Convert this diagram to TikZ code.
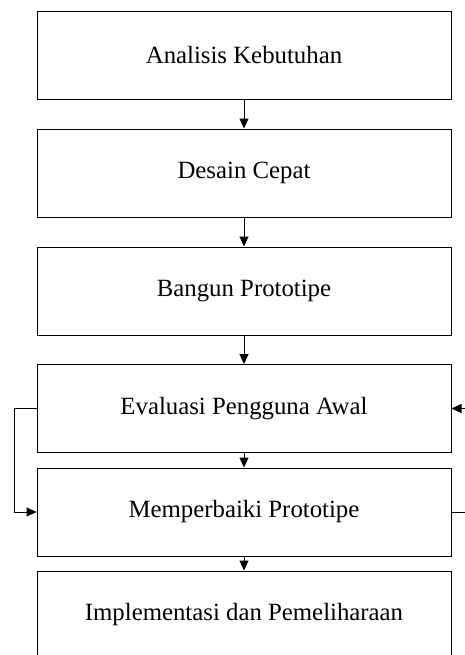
\documentclass[tikz,border=0pt]{standalone}
\usepackage{fontspec}
\setmainfont{Liberation Serif}
\usetikzlibrary{arrows.meta}

\tikzset{
    box/.style={draw=black, line width=0.5pt, rectangle, minimum width=207pt, minimum height=44pt, inner sep=0pt, font=\fontsize{12.4}{15}\selectfont},
    arrow/.style={draw=black, line width=0.5pt, -{Triangle[width=4.5pt,length=5pt]}}
}

\begin{document}
\begin{tikzpicture}[x=0.5pt, y=-0.5pt]
        \useasboundingbox (0,0) rectangle (465,655);

        \node[box] (analisis) at (244,55) {Analisis Kebutuhan};
        \node[box] (desain) at (244,173) {Desain Cepat};
        \node[box] (bangun) at (244,291) {Bangun Prototipe};
        \node[box] (evaluasi) at (244,408.5) {Evaluasi Pengguna Awal};
        \node[box] (perbaiki) at (244,512) {Memperbaiki Prototipe};
        \node[box] (implementasi) at (244,615) {Implementasi dan Pemeliharaan};

        \coordinate (kanan bawah) at (490,512);
        \coordinate (kanan atas) at (490,408.5);

        \draw[arrow] (analisis) -- (desain);
        \draw[arrow] (desain) -- (bangun);
        \draw[arrow] (bangun) -- (evaluasi);
        \draw[arrow] (evaluasi) -- (perbaiki);
        \draw[arrow] (perbaiki) -- (implementasi);

        \draw[arrow] (evaluasi.west) -- ++(-22,0) |- (perbaiki.west);
        \draw[line width=0.5pt] (perbaiki.east) -- (kanan bawah) -- (kanan atas);
        \draw[arrow] (kanan atas) -- (evaluasi.east);
    \end{tikzpicture}
\end{document}
